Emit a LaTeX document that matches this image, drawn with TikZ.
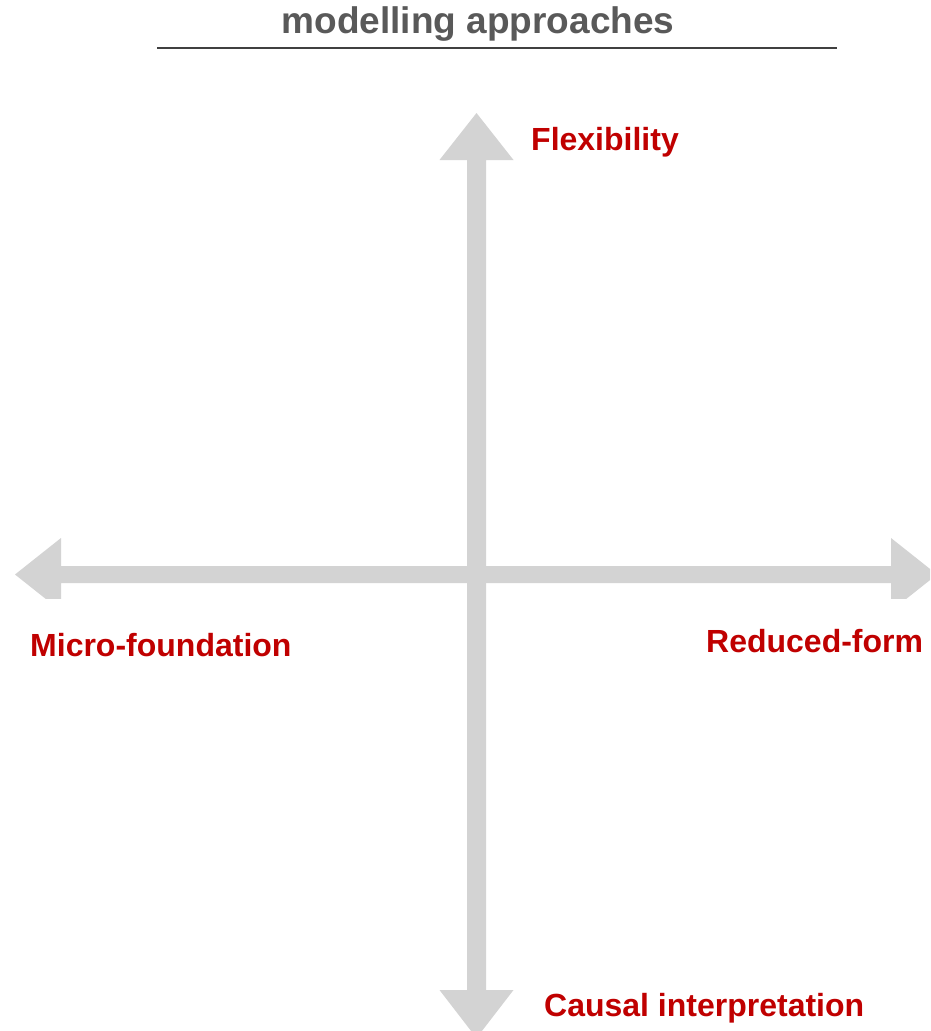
\documentclass[tikz,border=0pt]{standalone}
\usepackage{fontspec}
\setmainfont{Liberation Sans}
\definecolor{arrowgray}{RGB}{211,211,211}
\definecolor{titlegray}{RGB}{89,89,89}
\definecolor{rulegray}{RGB}{64,64,64}
\definecolor{labelred}{RGB}{192,0,0}
\tikzset{
  axislabel/.style={font=\bfseries\fontsize{32}{38}\selectfont, text=labelred, inner sep=0pt, anchor=base west},
  titletext/.style={font=\bfseries\fontsize{37}{44}\selectfont, text=titlegray, inner sep=0pt, anchor=base},
  axisfill/.style={fill=arrowgray, draw=none}
}
\begin{document}
\begin{tikzpicture}[x=1pt,y=-1pt]
\useasboundingbox (0,0) rectangle (930,1031);
\fill[white] (0,0) rectangle (930,1031);
% title and rule
\node[titletext] (title) at (478,33) {modelling approaches};
\coordinate (ruleL) at (157,48);
\coordinate (ruleR) at (837,48);
\draw[rulegray, line width=2pt] (ruleL) -- (ruleR);
% horizontal double arrow (clipped at bottom)
\begin{scope}
\clip (0,0) rectangle (930,598);
\fill[axisfill] (15,574.5) -- (61,538) -- (61,566) -- (891,566) -- (891,538) -- (937,574.5)
  -- (891,611) -- (891,583) -- (61,583) -- (61,611) -- cycle;
\end{scope}
% vertical double arrow
\begin{scope}
\clip (0,0) rectangle (930,1031);
\fill[axisfill] (476.5,113) -- (513.5,160) -- (486,160) -- (486,990) -- (513.5,990) -- (476.5,1038)
  -- (439.5,990) -- (467,990) -- (467,160) -- (439.5,160) -- cycle;
\end{scope}
% labels
\node[axislabel] (flex) at (531,150) {Flexibility};
\node[axislabel] (micro) at (30,656) {Micro-foundation};
\node[axislabel] (reduced) at (706,652) {Reduced-form};
\node[axislabel] (causal) at (544,1016) {Causal interpretation};
\end{tikzpicture}
\end{document}
